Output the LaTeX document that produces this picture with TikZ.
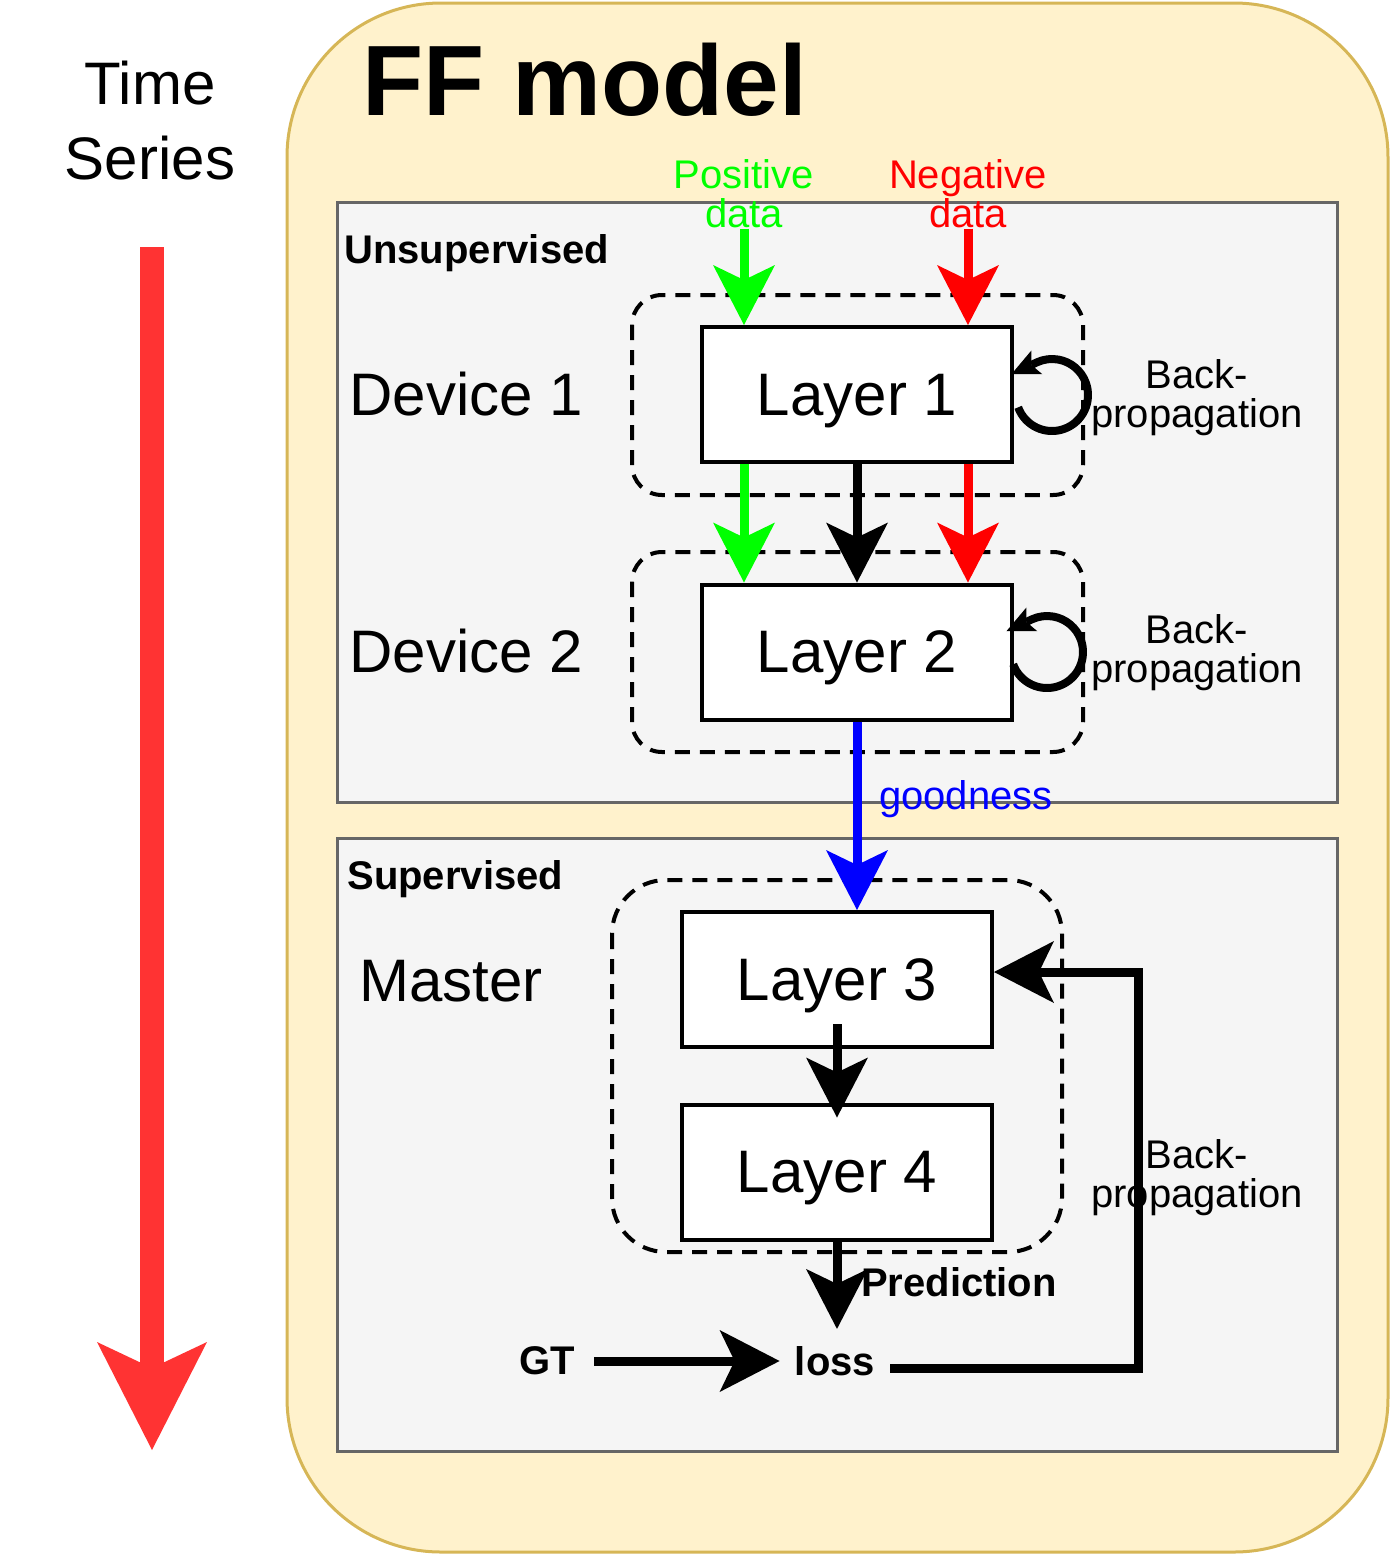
\documentclass[tikz,border=0pt]{standalone}
\usepackage{fontspec}
\setmainfont{Liberation Sans}
\usetikzlibrary{arrows.meta}
\definecolor{ffback}{HTML}{FFF2CC}
\definecolor{ffedge}{HTML}{D6B656}
\definecolor{grayback}{HTML}{F5F5F5}
\definecolor{grayedge}{HTML}{666666}
\definecolor{tsred}{HTML}{FF3333}
\definecolor{posgreen}{HTML}{00FF00}
\definecolor{negred}{HTML}{FF0000}
\definecolor{goodblue}{HTML}{0000FF}

\begin{document}
\begin{tikzpicture}[x=0.5pt,y=-0.5pt]
\tikzstyle{layer}=[draw=black,fill=white,line width=2pt,minimum width=155pt,minimum height=67.5pt,inner sep=0pt,text depth=0pt,font=\fontsize{30pt}{36pt}\selectfont]
\tikzstyle{big}=[font=\fontsize{30pt}{37.5pt}\selectfont,align=center,inner sep=0pt]
\tikzstyle{small}=[font=\fontsize{20pt}{19.5pt}\selectfont,align=center,inner sep=0pt]
\tikzstyle{smallbold}=[font=\fontsize{20pt}{19.5pt}\selectfont\bfseries,inner sep=0pt]
\tikzstyle{device}=[draw=black,dash pattern=on 7.5pt off 5pt,line width=2pt]
\tikzstyle{stage}=[draw=grayedge,fill=grayback,line width=1.5pt]
\tikzstyle{flow}=[line width=4.5pt,-{Stealth[length=30pt,width=31pt,inset=7.5pt,line width=0pt]}]
\tikzstyle{selfloop}=[line width=4pt,-{Stealth[length=14pt,width=13pt,inset=3pt,line width=0pt]}]
\useasboundingbox (0,0) rectangle (1390,1555);
% containers
\draw[fill=ffback,draw=ffedge,line width=1.5pt,rounded corners=77pt] (287,3) rectangle (1388,1552);
\draw[stage] (337,202) rectangle (1337,802);
\draw[stage] (337,838) rectangle (1337,1451);
\draw[device,rounded corners=15pt] (632,295) rectangle (1083,495);
\draw[device,rounded corners=15pt] (632,552) rectangle (1083,752);
\draw[device,rounded corners=27pt] (612,880) rectangle (1062,1252);
% texts
\node[big] (ts) at (150,121) {Time\\Series};
\node[font=\fontsize{50pt}{58pt}\selectfont\bfseries,inner sep=0pt] (title) at (585,80) {FF model};
\node[smallbold,anchor=base west] (unsup) at (344,263) {Unsupervised};
\node[smallbold,anchor=base west] (sup) at (347,889) {Supervised};
\node[big,anchor=base west] (dev1) at (349,415) {Device 1};
\node[big,anchor=base west] (dev2) at (349,672) {Device 2};
\node[big,anchor=base west] (master) at (359,1001) {Master};
\node[layer] (l1) at (857,394.5) {Layer 1};
\node[layer] (l2) at (857,652) {Layer 2};
\node[layer] (l3) at (837,979.5) {Layer 3};
\node[layer] (l4) at (837,1172) {Layer 4};
\node[small,text=posgreen] (pos) at (744,194) {Positive\\data};
\node[small,text=negred] (neg) at (968,194) {Negative\\data};
\node[small] (bp1) at (1197,398) {Back-\\propagation};
\node[small] (bp2) at (1197,653) {Back-\\propagation};
\node[small] (bp3) at (1197,1178) {Back-\\propagation};
\node[small,text=goodblue] (good) at (966,799) {goodness};
\node[smallbold] (pred) at (959,1282) {Prediction};
\node[smallbold,inner xsep=9.5pt] (gt) at (547,1361) {GT};
\node[smallbold,inner xsep=7.5pt,inner ysep=8.5pt] (loss) at (835,1361) {loss};
\coordinate (tstop) at (152,247);
\coordinate (tsbot) at (152,1450);
\coordinate (c1) at (1052,395);
\coordinate (c2) at (1047,652);
\coordinate (fbk) at (1138,972);
% arrows
\draw[line width=12pt,tsred,-{Stealth[length=54pt,width=55pt,inset=13pt,line width=0pt]}] (tstop) -- (tsbot);
\draw[flow,posgreen] (pos.south) -- (pos.south |- l1.north);
\draw[flow,negred] (neg.south) -- (neg.south |- l1.north);
\draw[flow,posgreen] (pos.south |- l1.south) -- (pos.south |- l2.north);
\draw[flow] (l1.south) -- (l2.north);
\draw[flow,negred] (neg.south |- l1.south) -- (neg.south |- l2.north);
\draw[flow,goodblue] (l2.south) -- (l2.south |- l3.north);
\draw[flow] ([yshift=12.5pt]l3.south) -- ([yshift=-7.5pt]l4.north);
\draw[flow] (l4.south) -- (l4.south |- loss.north);
\draw[flow] (gt) -- (loss);
\draw[flow] ([yshift=-3.5pt]loss.east) -| (fbk) -- (l3.east |- fbk);
\draw[selfloop] ([shift={(200:18pt)}]c1) arc[start angle=200,end angle=475,radius=18pt] -- ++(205:14pt);
\draw[selfloop] ([shift={(200:18pt)}]c2) arc[start angle=200,end angle=475,radius=18pt] -- ++(205:14pt);
\end{tikzpicture}
\end{document}
